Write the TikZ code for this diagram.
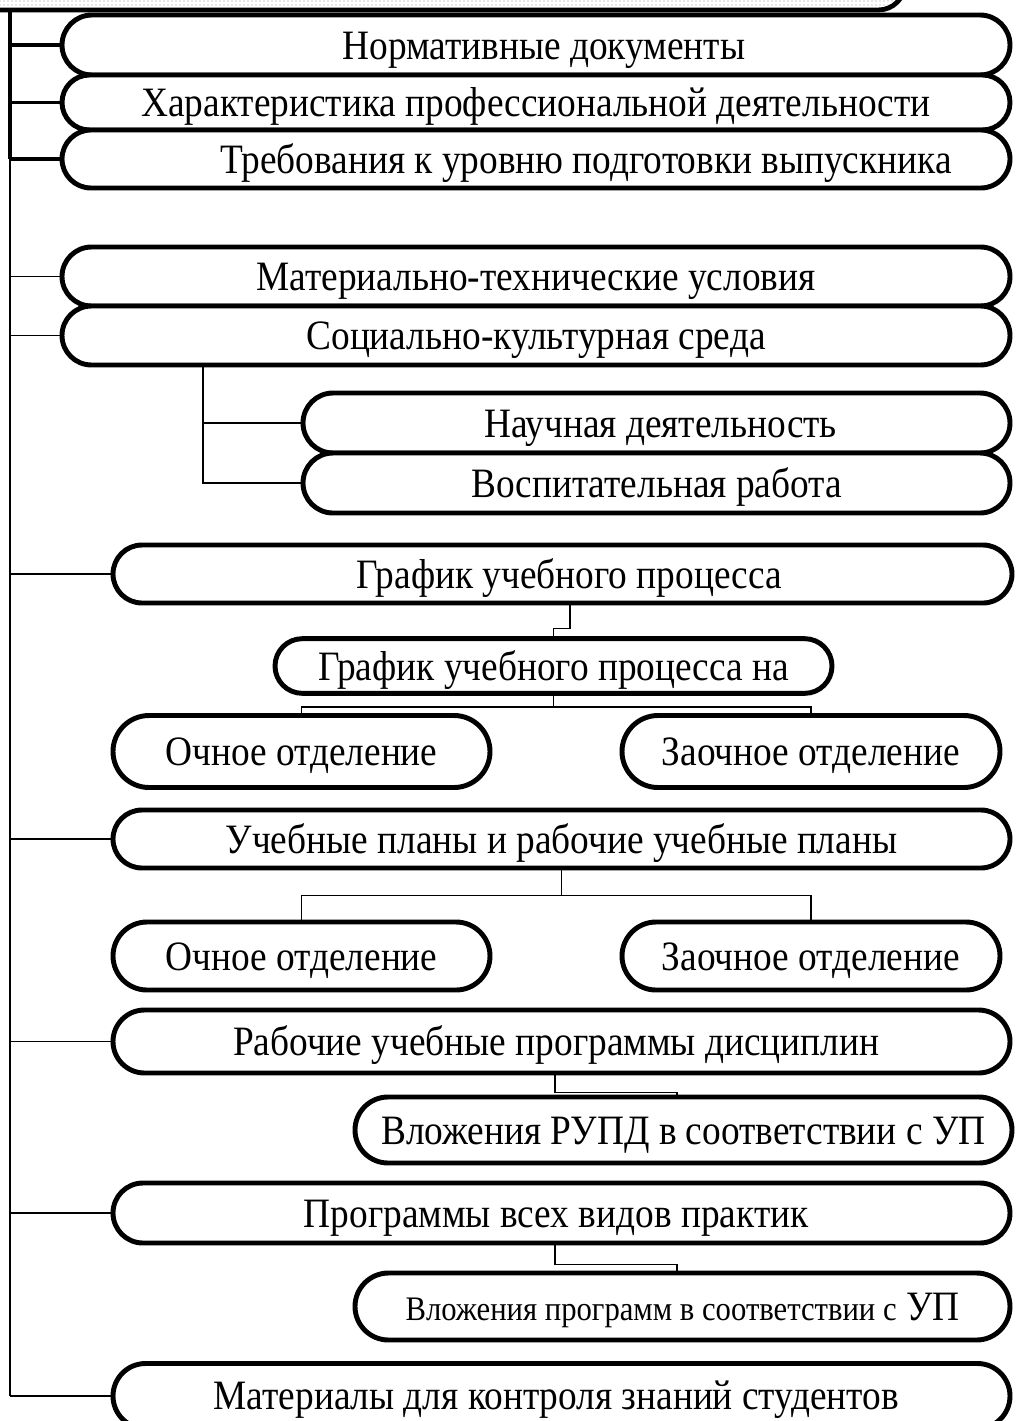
\documentclass[tikz,border=0pt]{standalone}
\usepackage{fontspec}
\setmainfont{Liberation Serif}
\usetikzlibrary{patterns,shapes.misc}
\newcommand{\tl}[1]{\scalebox{1}[1.12]{#1}}
\begin{document}
\begin{tikzpicture}[x=0.75pt,y=-0.75pt,
  box/.style={draw, line width=3.7pt, rounded rectangle, fill=white, inner sep=0pt,
     text height=21pt, text depth=0pt, font=\fontsize{28}{31}\selectfont},
  conn/.style={draw, line width=1.3pt},
  trunkthick/.style={draw, line width=2.4pt},
  rootbox/.style={draw, line width=3.6pt, rounded corners=20pt, pattern=dots, pattern color=gray!80, inner sep=0pt}]
\useasboundingbox (0,0) rectangle (1016,1421);
\node[rootbox, minimum width=723.75pt, minimum height=67.5pt] (root) at (422.5,-35) {};
\coordinate (tr) at (10,0);
\coordinate (sc) at (203,0);
\coordinate (j1) at (570,0);
\coordinate (j2) at (555,0);
\coordinate (j3) at (677,0);
% boxes
\node[box, minimum width=711pt, minimum height=45pt] (b1) at (536,45) {\hspace*{12pt}\tl{Нормативные документы}};
\node[box, minimum width=711pt, minimum height=41.25pt] (b2) at (536,102.5) {\tl{Характеристика профессиональной деятельности}};
\node[box, minimum width=711pt, minimum height=43.5pt] (b3) at (536,159) {\hspace*{75pt}\tl{Требования к уровню подготовки выпускника}};
\node[box, minimum width=711pt, minimum height=44.25pt] (b4) at (536,276.5) {\tl{Материально-технические условия}};
\node[box, minimum width=711pt, minimum height=44.25pt] (b5) at (536,335.5) {\tl{Социально-культурная среда}};
\node[box, minimum width=530.25pt, minimum height=45pt] (b6) at (656.5,423) {\hspace*{6pt}\tl{Научная деятельность}};
\node[box, minimum width=530.25pt, minimum height=45pt] (b7) at (656.5,483) {\tl{Воспитательная работа}};
\node[box, minimum width=674.25pt, minimum height=43.5pt] (b8) at (562.5,574) {\hspace*{10pt}\tl{График учебного процесса}};
\node[box, minimum width=417.75pt, minimum height=41pt] (b9) at (553.5,666) {\tl{График учебного процесса на}};
\node[box, minimum width=282.75pt, minimum height=54pt] (b10) at (301.5,751.5) {\tl{Очное отделение}};
\node[box, minimum width=283.5pt, minimum height=54pt] (b11) at (811,751.5) {\tl{Заочное отделение}};
\node[box, minimum width=672.75pt, minimum height=43.5pt] (b12) at (561.5,839) {\tl{Учебные планы и рабочие учебные планы}};
\node[box, minimum width=282.75pt, minimum height=51pt] (b13) at (301.5,956) {\tl{Очное отделение}};
\node[box, minimum width=283.5pt, minimum height=51pt] (b14) at (811,956) {\tl{Заочное отделение}};
\node[box, minimum width=672.75pt, minimum height=47.25pt] (b15) at (561.5,1041.5) {\tl{Рабочие учебные программы дисциплин}\hspace*{8pt}};
\node[box, minimum width=492.75pt, minimum height=49.5pt] (b16) at (683.5,1130) {\tl{Вложения РУПД в соответствии с УП}};
\node[box, minimum width=672.75pt, minimum height=45pt] (b17) at (561.5,1213) {\tl{Программы всех видов практик}\hspace*{8pt}};
\node[box, minimum width=491.25pt, minimum height=50.25pt] (b18) at (682.5,1306.5) {\tl{{\fontsize{23}{26}\selectfont Вложения программ в соответствии с} УП}};
\node[box, minimum width=672.75pt, minimum height=48.75pt, text height=20pt] (b19) at (561.5,1396) {\tl{Материалы для контроля знаний студентов}\hspace*{8pt}};
% trunk
\draw[trunkthick] (root.south -| tr) -- (b3.west -| tr);
\draw[conn] (b3.west -| tr) -- (b19.west -| tr);
\foreach \b in {b1,b2,b3} \draw[trunkthick] (\b.west -| tr) -- (\b.west);
\foreach \b in {b4,b5,b8,b12,b15,b17,b19} \draw[conn] (\b.west -| tr) -- (\b.west);
% sub connectors
\draw[conn] (b5.south -| sc) |- (b6.west);
\draw[conn] (b5.south -| sc) |- (b7.west);
\draw[conn] (b8.south -| j1) -- ++(0,23) -| (b9.north);
\draw[conn] (b9.south) -- ++(0,11) -| (b10.north);
\draw[conn] (b9.south) ++(0,11) -| (b11.north);
\draw[conn] (b12.south) -- ++(0,25) -| (b13.north);
\draw[conn] (b12.south) ++(0,25) -| (b14.north);
\draw[conn] (b15.south -| j2) -- ++(0,17) -| (b16.north -| j3);
\draw[conn] (b17.south -| j2) -- ++(0,19) -| (b18.north -| j3);
\end{tikzpicture}
\end{document}
